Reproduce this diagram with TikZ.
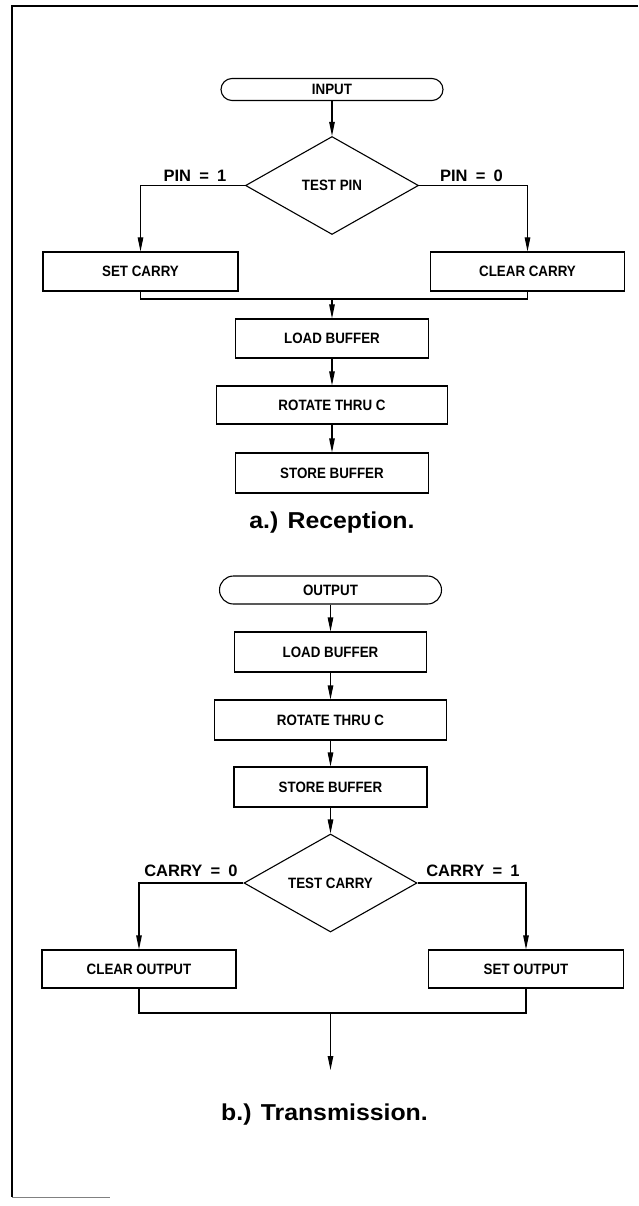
\documentclass[tikz,border=0pt]{standalone}
\usepackage{fontspec}
\setmainfont{Liberation Sans}
\newfontfamily\boxfont[FakeStretch=0.89]{Liberation Sans}
\newfontfamily\capfont[FakeStretch=1.08]{Liberation Sans}
\usetikzlibrary{shapes.geometric,arrows.meta}

\begin{document}
\begin{tikzpicture}[x=1pt, y=-1pt,
  boxtext/.style={font=\boxfont\fontsize{15}{17}\selectfont\bfseries},
  term/.style={draw, line width=1.1pt, boxtext, inner sep=0pt, minimum width=222pt},
  proc/.style={draw, line width=1.1pt, boxtext, inner sep=0pt, minimum height=39pt},
  decide/.style={draw, diamond, line width=1.1pt, boxtext, inner sep=0pt, aspect=1.77,
                 minimum width=173pt, minimum height=98pt},
  cond/.style={font=\fontsize{16.5}{18}\selectfont\bfseries, inner sep=0pt},
  figcap/.style={font=\capfont\fontsize{23}{26}\selectfont\bfseries, inner sep=0pt, anchor=base},
  wire/.style={line width=1.1pt},
  flow/.style={line width=1.1pt, -{Triangle[length=14pt,width=5.5pt]}}]

\useasboundingbox (0,0) rectangle (638,1206);

% frame
\draw [line width=1.3pt] (638,6) -- (12,6) -- (12,1197);
\draw [gray, line width=0.8pt] (12,1197) -- (110,1197);

% -------- a.) Reception -----------
\node [term, minimum height=22pt, rounded corners=11pt] (inp) at (332, 89.5) {INPUT};
\node [decide] (tpin) at (332, 185.5) {TEST PIN};
\node [cond] (pin1) at (195, 176) {PIN\enspace=\enspace1};
\node [cond] (pin0) at (471.5, 176) {PIN\enspace=\enspace0};
\node [proc, minimum width=195pt] (setc) at (140.5, 271.5) {SET CARRY};
\node [proc, minimum width=194pt] (clrc) at (527.5, 271.5) {CLEAR CARRY};
\coordinate (ja) at (332, 299);
\node [proc, minimum width=192.5pt] (ldb) at (332, 338.5) {LOAD BUFFER};
\node [proc, minimum width=231.6pt, minimum height=38pt] (rot) at (332, 405) {ROTATE THRU C};
\node [proc, minimum width=192.5pt, minimum height=40pt] (stb) at (332, 473) {STORE BUFFER};
\node [figcap] (capa) at (332, 528) {a.) Reception.};

\draw [flow] (inp) -- (tpin);
\draw [flow] (tpin.west) -| (setc.north);
\draw [flow] (tpin.east) -| (clrc.north);
\draw [wire] (setc.south) |- (ja) -| (clrc.south);
\draw [flow] (ja) -- (ldb);
\draw [flow] (ldb) -- (rot);
\draw [flow] (rot) -- (stb);

% -------- b.) Transmission -----------
\node [term, minimum height=28pt, rounded corners=14pt] (outp) at (330.5, 590) {OUTPUT};
\node [proc, minimum width=192.6pt, minimum height=40pt] (ldb2) at (330.5, 652) {LOAD BUFFER};
\node [proc, minimum width=232.4pt, minimum height=40pt] (rot2) at (330.5, 720) {ROTATE THRU C};
\node [proc, minimum width=193pt, minimum height=40pt] (stb2) at (330.5, 787) {STORE BUFFER};
\node [decide] (tcar) at (330.5, 883) {TEST CARRY};
\node [cond] (car0) at (191, 870.5) {CARRY\enspace=\enspace0};
\node [cond] (car1) at (473, 870.5) {CARRY\enspace=\enspace1};
\node [proc, minimum width=194pt, minimum height=38pt] (clro) at (139, 969) {CLEAR OUTPUT};
\node [proc, minimum width=194.8pt, minimum height=38pt] (seto) at (526, 969) {SET OUTPUT};
\coordinate (jb) at (330.5, 1013);
\coordinate (xend) at (330.5, 1070);
\node [figcap] (capb) at (324.5, 1120) {b.) Transmission.};

\draw [flow] (outp) -- (ldb2);
\draw [flow] (ldb2) -- (rot2);
\draw [flow] (rot2) -- (stb2);
\draw [flow] (stb2) -- (tcar);
\draw [flow] (tcar.west) -| (clro.north);
\draw [flow] (tcar.east) -| (seto.north);
\draw [wire] (clro.south) |- (jb) -| (seto.south);
\draw [flow] (jb) -- (xend);

\end{tikzpicture}
\end{document}
